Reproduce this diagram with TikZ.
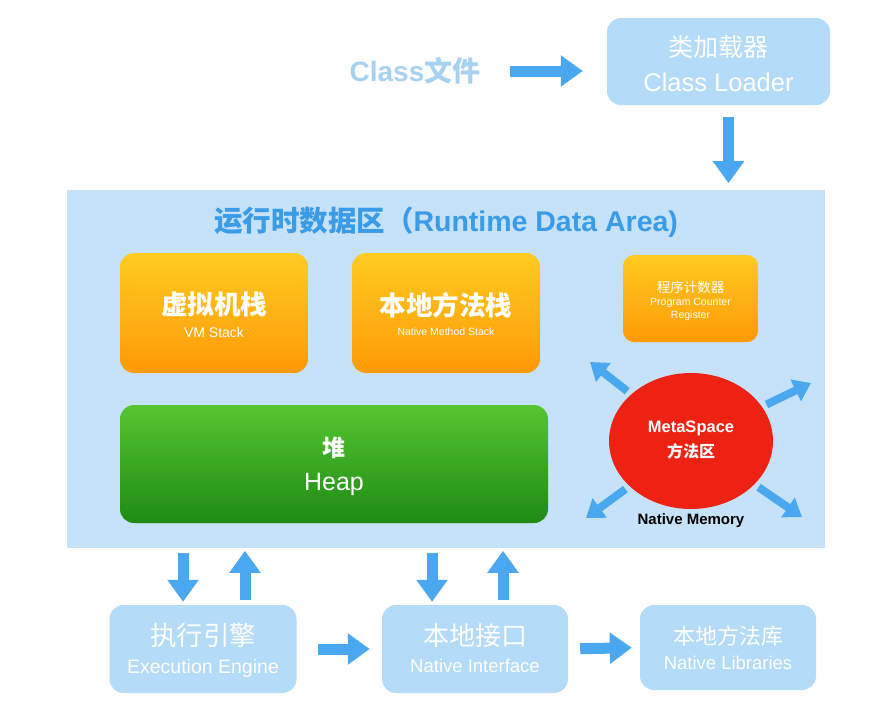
\documentclass[tikz,border=0pt]{standalone}
\usepackage{fontspec}
\setmainfont{Liberation Sans}
\newfontfamily\cjk{Noto Sans CJK SC}
\usetikzlibrary{arrows.meta,shapes.geometric,calc}
\definecolor{areabg}{HTML}{C6E2F9}
\definecolor{boxbg}{HTML}{B4DBF8}
\definecolor{arrowc}{HTML}{4AA8F0}
\definecolor{titlec}{HTML}{3A9BE6}
\definecolor{clsc}{HTML}{A6D2F2}
\definecolor{orgtop}{HTML}{FFCB22}
\definecolor{orgbot}{HTML}{FF9A06}
\definecolor{grtop}{HTML}{55C630}
\definecolor{grbot}{HTML}{1E8A14}
\definecolor{metared}{HTML}{EE2212}
\begin{document}
\begin{tikzpicture}[x=1pt,y=-1pt,
  bigarrow/.style={draw=arrowc, line width=11pt, -{Triangle[length=22pt,width=30pt]}},
  smallarrow/.style={draw=arrowc, line width=8pt, -{Triangle[length=17pt,width=23pt]}},
  bluebox/.style={fill=boxbg, rounded corners=14pt, inner sep=0},
  orangebox/.style={top color=orgtop, bottom color=orgbot, rounded corners=14pt, inner sep=0},
  greenbox/.style={top color=grtop, bottom color=grbot, rounded corners=14pt, inner sep=0},
  wtxt/.style={text=white, inner sep=0, anchor=center},
]
\useasboundingbox (0,0) rectangle (882,723);
\fill[white] (0,0) rectangle (882,723);

% runtime data area
\node[fill=areabg, minimum width=758pt, minimum height=358pt, inner sep=0] (area) at (446,369) {};
\node[text=titlec, inner sep=0, font=\fontsize{28.5}{32}\selectfont\bfseries] (title) at (446,222)
  {{\cjk\bfseries 运行时数据区（}Runtime Data Area)};

% class file and loader
\node[text=clsc, inner sep=0, font=\fontsize{28}{32}\selectfont\bfseries] (clsfile) at (415,71)
  {Class{\cjk\bfseries 文件}};
\node[bluebox, minimum width=223pt, minimum height=87pt] (loader) at (718.5,61.5) {};
\node[wtxt, font=\cjk\fontsize{25}{28}\selectfont] (loaderT1) at (718.5,47) {类加载器};
\node[wtxt, font=\fontsize{25.5}{28}\selectfont] (loaderT2) at (718.5,82) {Class Loader};
\draw[bigarrow] ($(loader.west)+(-97,9.5)$) -- ($(loader.west)+(-24,9.5)$);
\draw[bigarrow] ($(loader.south)+(10,12)$) -- ($(loader.south)+(10,78)$);

% stacks
\node[orangebox, minimum width=188pt, minimum height=120pt] (vm) at (214,313) {};
\node[wtxt, font=\cjk\bfseries\fontsize{26.5}{30}\selectfont] (vmT1) at (214,304) {虚拟机栈};
\node[wtxt, font=\fontsize{14}{16}\selectfont] (vmT2) at (214,332) {VM Stack};

\node[orangebox, minimum width=188pt, minimum height=120pt] (nms) at (446,313) {};
\node[wtxt, font=\cjk\bfseries\fontsize{26.5}{30}\selectfont] (nmsT1) at (446,305) {本地方法栈};
\node[wtxt, font=\fontsize{10.5}{12}\selectfont] (nmsT2) at (446,332) {Native Method Stack};

\node[orangebox, minimum width=135pt, minimum height=87pt, rounded corners=11pt] (pc) at (690.5,298.5) {};
\node[wtxt, font=\cjk\fontsize{13.5}{15}\selectfont] (pcT1) at (690.5,287) {程序计数器};
\node[wtxt, font=\fontsize{10.5}{12}\selectfont] (pcT2) at (690.5,303) {Program Counter};
\node[wtxt, font=\fontsize{10.5}{12}\selectfont] (pcT3) at (690.5,316) {Register};

% heap
\node[greenbox, minimum width=428pt, minimum height=118pt] (heap) at (334,464) {};
\node[wtxt, font=\cjk\bfseries\fontsize{23}{26}\selectfont] (heapT1) at (334,448) {堆};
\node[wtxt, font=\fontsize{25}{28}\selectfont] (heapT2) at (334,484) {Heap};

% metaspace
\node[ellipse, fill=metared, minimum width=164pt, minimum height=136pt, inner sep=0] (meta) at (691,441) {};
\node[wtxt, font=\bfseries\fontsize{16.5}{18}\selectfont] (metaT1) at (691,428) {MetaSpace};
\node[wtxt, font=\cjk\bfseries\fontsize{16}{18}\selectfont] (metaT2) at (691,451) {方法区};
\node[inner sep=0, font=\bfseries\fontsize{15}{18}\selectfont] (natmem) at (691,521) {Native Memory};
\coordinate (mUL) at (590,362);
\coordinate (mUR) at (811,383);
\coordinate (mLL) at (586,518);
\coordinate (mLR) at (802,517);
\draw[smallarrow, shorten <=5pt] (meta) -- (mUL);
\draw[smallarrow, shorten <=5pt] (meta) -- (mUR);
\draw[smallarrow, shorten <=5pt] (meta) -- (mLL);
\draw[smallarrow, shorten <=5pt] (meta) -- (mLR);

% bottom boxes
\node[bluebox, minimum width=187pt, minimum height=88pt] (exec) at (203,649) {};
\node[wtxt, font=\cjk\fontsize{26.5}{28}\selectfont] (execT1) at (203,635) {执行引擎};
\node[wtxt, font=\fontsize{19.5}{22}\selectfont] (execT2) at (203,668) {Execution Engine};

\node[bluebox, minimum width=186pt, minimum height=88pt] (ni) at (475,649) {};
\node[wtxt, font=\cjk\fontsize{26}{28}\selectfont] (niT1) at (475,636) {本地接口};
\node[wtxt, font=\fontsize{18.5}{20}\selectfont] (niT2) at (475,666) {Native Interface};

\node[bluebox, minimum width=176pt, minimum height=85pt] (lib) at (728,647.5) {};
\node[wtxt, font=\cjk\fontsize{22}{26}\selectfont] (libT1) at (728,636) {本地方法库};
\node[wtxt, font=\fontsize{18.5}{20}\selectfont] (libT2) at (728,663) {Native Libraries};

% vertical arrows
\draw[bigarrow] ($(exec.north)+(-20,-52)$) -- ($(exec.north)+(-20,-3)$);
\draw[bigarrow] ($(exec.north)+(42,-5)$) -- ($(exec.north)+(42,-54)$);
\draw[bigarrow] ($(ni.north)+(-43,-52)$) -- ($(ni.north)+(-43,-3)$);
\draw[bigarrow] ($(ni.north)+(28,-5)$) -- ($(ni.north)+(28,-54)$);

% horizontal arrows
\draw[bigarrow, shorten <=21pt, shorten >=12pt] (exec.east) -- (ni.west);
\draw[bigarrow, shorten <=12pt, shorten >=8pt] (ni.east) -- (lib.west);
\end{tikzpicture}
\end{document}
